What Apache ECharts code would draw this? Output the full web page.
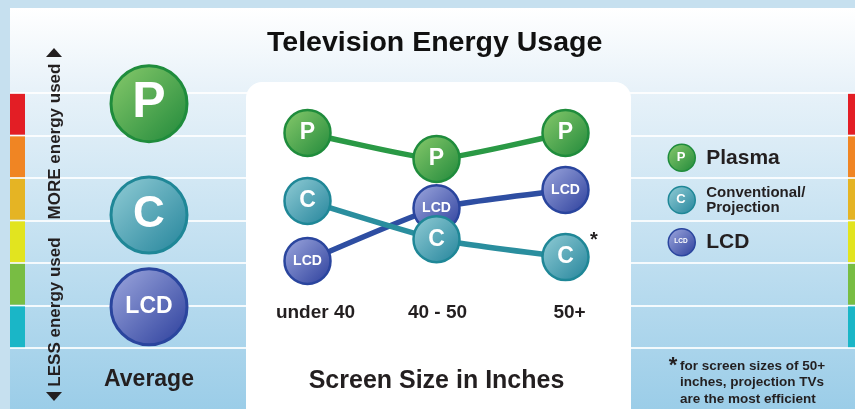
<!DOCTYPE html>
<html><head><meta charset="utf-8">
<script src="https://cdn.jsdelivr.net/npm/echarts@6/dist/echarts.min.js"></script>
<style>html,body{margin:0;padding:0;background:#c6e0ef}#c{width:855px;height:409px}</style>
</head><body><div id="c"></div>
<script>
// ---- data ----
const screenSizes = ['under 40', '40 - 50', '50+'];
const plasmaUsage = [5.06, 4.45, 5.06];
const lcdUsage = [2.05, 3.29, 3.72];
const conventionalUsage = [3.46, 2.56, 2.14];
const averageCategory = ['Average'];
const averagePlasma = [5.75];
const averageConventional = [3.13];
const averageLcd = [0.97];
const energyLevels = ['1', '2', '3', '4', '5', '6'];
const levelWidth = [1, 1, 1, 1, 1, 1];

// ---- styles ----
const FONT = '"Liberation Sans", Arial, Helvetica, sans-serif';
const bandColors = ['#1ab6c7', '#78bd43', '#e2e41f', '#e5b424', '#f08523', '#e31e25'];
function grad(a, b) { return { type: 'linear', x: 0, y: 0, x2: 1, y2: 1, colorStops: [{ offset: 0, color: a }, { offset: 1, color: b }] }; }
const sty = {
  P:   { fill: grad('#8acb6c', '#1f883a'), border: '#1f8c3c', line: '#2a9945' },
  C:   { fill: grad('#94ced7', '#22839a'), border: '#1f8797', line: '#2a8e9e' },
  LCD: { fill: grad('#a0aadf', '#2a3d9b'), border: '#2a459e', line: '#2e4ea2' }
};

const chart = echarts.init(document.getElementById('c'));
function bandBars(idx) {
  return {
    type: 'bar', name: 'scale' + idx, xAxisIndex: idx, yAxisIndex: idx,
    barCategoryGap: '4%', silent: true,
    data: levelWidth.map((v, i) => ({ value: v, itemStyle: { color: bandColors[i] } }))
  };
}
function avgScatter(name, data, key, text, size) {
  return {
    type: 'scatter', name, xAxisIndex: 3, yAxisIndex: 3, data, symbolSize: 76, z: 3,
    itemStyle: { color: sty[key].fill, borderColor: sty[key].border, borderWidth: 3, opacity: 1 },
    label: { show: true, position: 'inside', formatter: text, color: '#fff', fontWeight: 'bold', fontSize: size, fontFamily: FONT },
    emphasis: { disabled: true }
  };
}
function trendLine(name, data, key, text, size) {
  return {
    type: 'line', name, xAxisIndex: 4, yAxisIndex: 4, data, smooth: 0.15,
    symbol: 'circle', symbolSize: 46, z: 3,
    lineStyle: { color: sty[key].line, width: 5.5 },
    itemStyle: { color: sty[key].fill, borderColor: sty[key].border, borderWidth: 2.5, opacity: 1 },
    label: { show: true, position: 'inside', formatter: text, color: '#fff', fontWeight: 'bold', fontSize: size, fontFamily: FONT },
    emphasis: { disabled: true }
  };
}
const centered = { textAlign: 'center', align: 'center', textVerticalAlign: 'middle', verticalAlign: 'middle' };
const tickLabelStyle = { fontSize: 19, fontWeight: 'bold', color: '#231f20', fontFamily: FONT };

const option = {
  backgroundColor: '#c6e0ef',
  animation: false,
  textStyle: { fontFamily: FONT },
  title: {
    text: 'Television Energy Usage', left: 267, top: 29, padding: 0,
    textStyle: { fontSize: 28.5, fontWeight: 'bold', color: '#111', fontFamily: FONT }
  },
  legend: {
    orient: 'vertical', left: 667.5, top: 143.5, padding: 0, itemWidth: 27, itemHeight: 27, itemGap: 13,
    icon: 'circle', selectedMode: false,
    data: [
      { name: 'Plasma', itemStyle: { color: sty.P.fill, borderColor: sty.P.border, borderWidth: 1.5 } },
      { name: 'Conventional/Projection', itemStyle: { color: sty.C.fill, borderColor: sty.C.border, borderWidth: 1.5 } },
      { name: 'LCD', itemStyle: { color: sty.LCD.fill, borderColor: sty.LCD.border, borderWidth: 1.5 } }
    ],
    formatter: n => n === 'Conventional/Projection' ? '{s|Conventional/}\n{s|Projection}' : '{b|' + n + '}',
    textStyle: {
      padding: [0, 0, 0, 6],
      rich: {
        b: { fontSize: 21, fontWeight: 'bold', color: '#231f20', fontFamily: FONT },
        s: { fontSize: 15, fontWeight: 'bold', color: '#231f20', lineHeight: 15, fontFamily: FONT }
      }
    }
  },
  grid: [
    { left: 10, right: 0, top: 93, bottom: 61 },
    { left: 10, width: 15, top: 93, bottom: 61 },
    { right: 0, width: 7, top: 93, bottom: 61 },
    { left: 111, width: 76, top: 93, bottom: 61 },
    { left: 243, right: 225, top: 93, bottom: 103.5 }
  ],
  xAxis: [
    { gridIndex: 0, type: 'value', show: false },
    { gridIndex: 1, type: 'value', min: 0, max: 1, show: false },
    { gridIndex: 2, type: 'value', min: 0, max: 1, show: false },
    { gridIndex: 3, type: 'category', data: averageCategory, axisLine: { show: false }, axisTick: { show: false }, z: 4,
      axisLabel: { margin: 20, fontSize: 23, fontWeight: 'bold', color: '#231f20', fontFamily: FONT } },
    { gridIndex: 4, type: 'category', data: screenSizes, axisLine: { show: false }, axisTick: { show: false }, z: 4,
      axisLabel: {
        margin: -2, interval: 0, hideOverlap: false, ...tickLabelStyle,
        formatter: (v, i) => '{t' + i + '|' + v + '}',
        rich: {
          t0: Object.assign({ padding: [0, 0, 0, 16] }, tickLabelStyle),
          t1: Object.assign({ padding: [0, 0, 0, 2] }, tickLabelStyle),
          t2: Object.assign({ padding: [0, 0, 0, 8] }, tickLabelStyle)
        }
      },
      name: 'Screen Size in Inches', nameLocation: 'middle', nameGap: 63,
      nameTextStyle: { fontSize: 25, fontWeight: 'bold', color: '#231f20', fontFamily: FONT } }
  ],
  yAxis: [
    { gridIndex: 0, type: 'value', min: 0, max: 6, interval: 1, axisLine: { show: false }, axisTick: { show: false },
      axisLabel: { show: false }, splitLine: { show: true, lineStyle: { color: 'rgba(255,255,255,0.85)', width: 2 } } },
    { gridIndex: 1, type: 'category', data: energyLevels, show: false },
    { gridIndex: 2, type: 'category', data: energyLevels, show: false },
    { gridIndex: 3, type: 'value', min: 0, max: 6, show: false },
    { gridIndex: 4, type: 'value', min: 1, max: 6, show: false }
  ],
  series: [
    bandBars(1), bandBars(2),
    avgScatter('Plasma', averagePlasma, 'P', 'P', 50),
    avgScatter('Conventional/Projection', averageConventional, 'C', 'C', 44),
    avgScatter('LCD', averageLcd, 'LCD', 'LCD', 23),
    trendLine('Plasma', plasmaUsage, 'P', 'P', 23),
    trendLine('LCD', lcdUsage, 'LCD', 'LCD', 14),
    trendLine('Conventional/Projection', conventionalUsage, 'C', 'C', 23)
  ],
  graphic: [
    { type: 'rect', z: -5, shape: { x: 10, y: 8, width: 845, height: 401 },
      style: { fill: { type: 'linear', x: 0, y: 0, x2: 0, y2: 1, colorStops: [
        { offset: 0, color: '#ffffff' }, { offset: 0.2, color: '#e8f2f9' }, { offset: 1, color: '#9bcde8' }] } } },
    { type: 'rect', z: 1, shape: { x: 246, y: 82, width: 385, height: 345, r: 16 }, style: { fill: '#ffffff' } },
    { type: 'text', z: 5, x: 55, y: 141.5, rotation: Math.PI / 2,
      style: Object.assign({ text: 'MORE energy used', font: 'bold 17px ' + FONT, fill: '#231f20' }, centered) },
    { type: 'text', z: 5, x: 55, y: 312, rotation: Math.PI / 2,
      style: Object.assign({ text: 'LESS energy used', font: 'bold 17px ' + FONT, fill: '#231f20' }, centered) },
    { type: 'polygon', z: 5, shape: { points: [[46, 57], [62, 57], [54, 48]] }, style: { fill: '#231f20' } },
    { type: 'polygon', z: 5, shape: { points: [[46, 392], [62, 392], [54, 401]] }, style: { fill: '#231f20' } },
    { type: 'text', z: 5, x: 594, y: 240,
      style: Object.assign({ text: '*', font: 'bold 20px ' + FONT, fill: '#231f20' }, centered) },
    { type: 'text', z: 5, x: 673, y: 366,
      style: Object.assign({ text: '*', font: 'bold 22px ' + FONT, fill: '#231f20' }, centered) },
    { type: 'text', z: 5, x: 680, y: 358,
      style: { text: 'for screen sizes of 50+\ninches, projection TVs\nare the most efficient', font: 'bold 13.5px ' + FONT, lineHeight: 16.5, fill: '#231f20', textAlign: 'left', align: 'left', textVerticalAlign: 'top', verticalAlign: 'top' } },
    { type: 'text', z: 50, x: 681, y: 157.5,
      style: Object.assign({ text: 'P', font: 'bold 13px ' + FONT, fill: '#fff' }, centered) },
    { type: 'text', z: 50, x: 681, y: 199.5,
      style: Object.assign({ text: 'C', font: 'bold 13px ' + FONT, fill: '#fff' }, centered) },
    { type: 'text', z: 50, x: 681, y: 241.5,
      style: Object.assign({ text: 'LCD', font: 'bold 6.5px ' + FONT, fill: '#fff' }, centered) }
  ]
};
chart.setOption(option);
</script>
</body></html>
